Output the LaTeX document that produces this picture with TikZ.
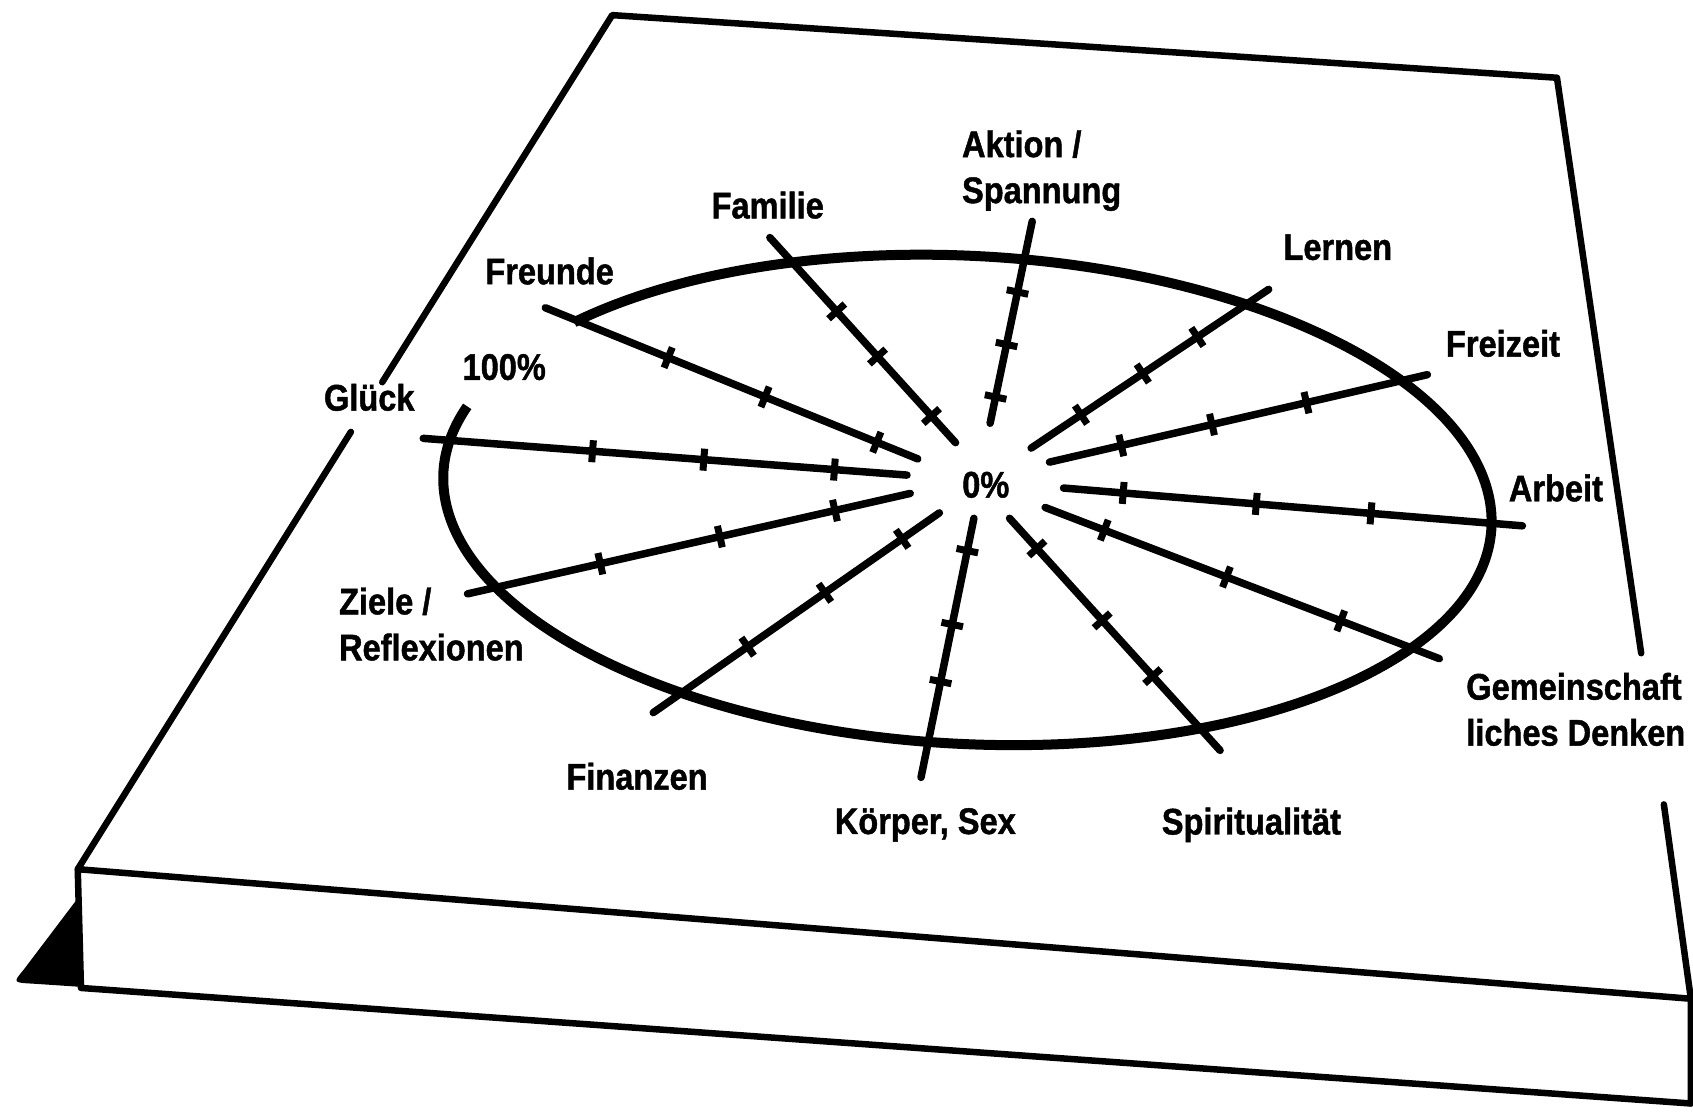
\documentclass[tikz,border=0pt]{standalone}
\usepackage{fontspec}
\setmainfont[FakeStretch=0.88]{Liberation Sans}
\newfontfamily\lblfont[FakeStretch=0.88,FakeBold=1.2]{Liberation Sans Bold}
\usetikzlibrary{calc}
\newcommand\wheelspoke[4]{%
  \coordinate (#1o) at #2;
  \coordinate (#1i) at #3;
  \draw[spokeline] (#1o) -- (#1i);
  \foreach \f in {#4} {
    \draw[tickline] ($(#1o)!\f!(#1i)!11pt!90:(#1i)$) -- ($(#1o)!\f!(#1i)!11pt!-90:(#1i)$);
  }%
}
\begin{document}
\begin{tikzpicture}[x=1.0797pt,y=-1.0797pt,
  edge/.style={line width=6.5pt, line cap=round, line join=round},
  spokeline/.style={line width=7.5pt, line cap=round},
  tickline/.style={line width=7pt},
  lbl/.style={font=\lblfont\fontsize{37}{46}\selectfont, inner sep=2pt}]
\useasboundingbox (0,0) rectangle (1568,1029);
% board outline
\coordinate (tl) at (567,14);
\coordinate (tr) at (1442,72);
\coordinate (frc) at (1566,925);
\coordinate (flc) at (72,805);
\coordinate (blc) at (75,915);
\coordinate (brc) at (1566,1022);
\coordinate (gA) at (354,354);
\coordinate (gB) at (325,400);
\coordinate (rA) at (1520,605);
\coordinate (rB) at (1541,745);
\draw[edge] (gA) -- (tl) -- (tr) -- (rA);
\draw[edge] (rB) -- (frc) -- (brc);
\draw[edge] (gB) -- (flc) -- (frc);
\draw[edge] (flc) -- (blc) -- (brc);
\fill (75,828) -- (22,898) .. controls (12,910) .. (30,911) -- (75,914) -- cycle;
% ellipse (100% ring) with gap for the label
\begin{scope}[shift={(896,463)}, rotate=-3]
  \draw[line width=10pt] (220:486 and 226) arc[start angle=220, end angle=556, x radius=486, y radius=226];
\end{scope}
% spokes
\wheelspoke{sgl}{(392,406)}{(840,440)}{0.35,0.58,0.85}
\wheelspoke{sfr}{(505,285)}{(850,425)}{0.33,0.59,0.89}
\wheelspoke{sfa}{(713,220)}{(885,410)}{0.36,0.58,0.87}
\wheelspoke{sak}{(956,205)}{(917,392)}{0.35,0.61,0.87}
\wheelspoke{sle}{(1175,268)}{(955,415)}{0.30,0.53,0.79}
\wheelspoke{sfz}{(1322,347)}{(972,428)}{0.32,0.57,0.81}
\wheelspoke{sar}{(1410,487)}{(985,452)}{0.33,0.58,0.87}
\wheelspoke{sge}{(1333,610)}{(968,470)}{0.25,0.54,0.85}
\wheelspoke{ssp}{(1130,695)}{(935,480)}{0.32,0.56,0.87}
\wheelspoke{sko}{(853,720)}{(902,480)}{0.37,0.59,0.875}
\wheelspoke{sfi}{(605,660)}{(870,475)}{0.33,0.60,0.87}
\wheelspoke{szi}{(433,550)}{(843,457)}{0.30,0.57,0.83}
% labels
\node[lbl, align=left, anchor=west] (lak) at (889,158) {Aktion /\\Spannung};
\node[lbl] (lfa) at (711,190) {Familie};
\node[lbl] (lfr) at (509,251) {Freunde};
\node[lbl] (l100) at (467,340) {100\%};
\node[lbl] (lgl) at (342,368) {Glück};
\node[lbl] (lle) at (1239,229) {Lernen};
\node[lbl] (lfz) at (1392,318) {Freizeit};
\node[lbl] (lar) at (1441,452) {Arbeit};
\node[lbl] (l0) at (913,449) {0\%};
\node[lbl, align=left, anchor=west] (lzi) at (312,578) {Ziele /\\Reflexionen};
\node[lbl] (lfi) at (590,719) {Finanzen};
\node[lbl] (lko) at (857,764) {Körper, Sex};
\node[lbl] (lsp) at (1159,764) {Spiritualität};
\node[lbl, align=left, anchor=west] (lge) at (1356,657) {Gemeinschaft\\liches Denken};
\end{tikzpicture}
\end{document}
